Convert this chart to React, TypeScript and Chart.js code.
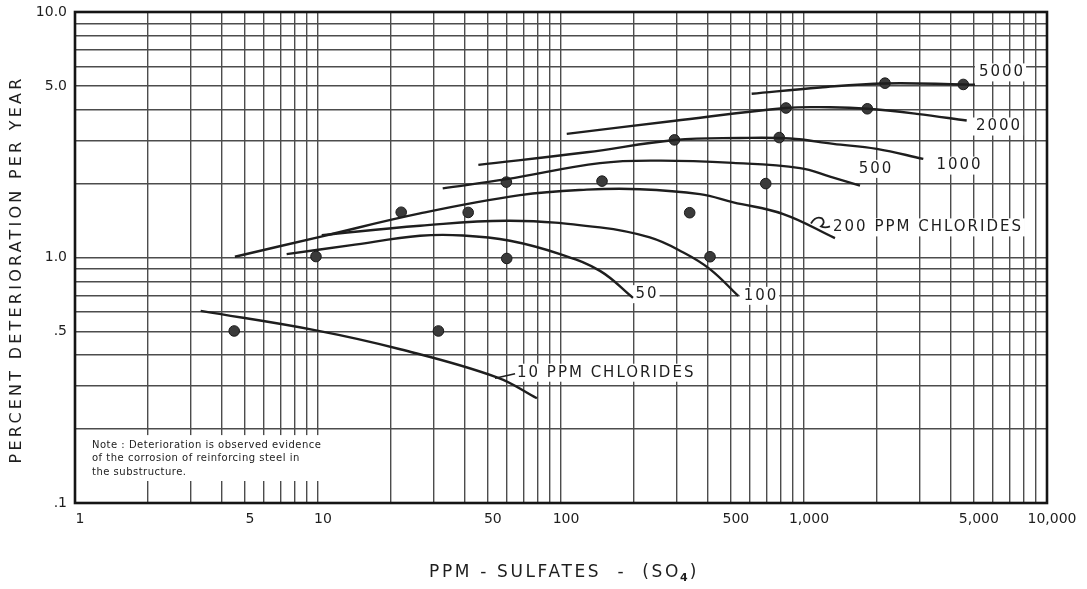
import React, { useEffect, useRef } from "react";
import { Chart, registerables } from "chart.js";

Chart.register(...registerables);

// ---- axes ----
const xGridValues = [1, 2, 3, 4, 5, 6, 7, 8, 9, 10, 20, 30, 40, 50, 60, 70, 80, 90, 100, 200, 300, 400, 500, 600, 700, 800, 900, 1000, 2000, 3000, 4000, 5000, 6000, 7000, 8000, 9000, 10000];
const xLabelValues = [1, 5, 10, 50, 100, 500, 1000, 5000, 10000];
const xLabelTexts = ["1", "5", "10", "50", "100", "500", "1,000", "5,000", "10,000"];
const yGridValues = [0.1, 0.2, 0.3, 0.4, 0.5, 0.6, 0.7, 0.8, 0.9, 1, 2, 3, 4, 5, 6, 7, 8, 9, 10];
const yLabelValues = [0.1, 0.5, 1, 5, 10];
const yLabelTexts = [".1", ".5", "1.0", "5.0", "10.0"];

// ---- curves (PPM sulfates vs percent deterioration per year) ----
const cl10Sulfates = [3.29, 9.81, 21.8, 54.5, 79.6];
const cl10Rate = [0.606, 0.505, 0.423, 0.325, 0.267];
const cl50Sulfates = [7.43, 13.5, 26.3, 39.5, 61.7, 99.1, 144.7, 197.8];
const cl50Rate = [1.032, 1.12, 1.226, 1.23, 1.17, 1.032, 0.882, 0.685];
const cl100Sulfates = [10.36, 26.3, 61.7, 144.7, 232, 319, 410, 536];
const cl100Rate = [1.234, 1.347, 1.412, 1.326, 1.207, 1.048, 0.897, 0.698];
const cl200Sulfates = [4.55, 10.4, 26.3, 67.8, 127.6, 211, 373, 512, 822, 1341];
const cl200Rate = [1.007, 1.22, 1.512, 1.795, 1.89, 1.898, 1.811, 1.677, 1.503, 1.2];
const cl500Sulfates = [32.6, 59.8, 144.7, 255.5, 510, 963, 1279, 1700];
const cl500Rate = [1.912, 2.085, 2.424, 2.481, 2.428, 2.312, 2.135, 1.962];
const cl1000Sulfates = [45.7, 127.6, 294.5, 545, 876, 1320, 1992, 3097];
const cl1000Rate = [2.383, 2.683, 3.009, 3.066, 3.051, 2.903, 2.771, 2.521];
const cl2000Sulfates = [105.6, 289, 843, 1279, 1822, 2909, 4673];
const cl2000Rate = [3.19, 3.597, 4.064, 4.09, 4.034, 3.848, 3.614];
const cl5000Sulfates = [609, 1164, 2154, 4524, 5053];
const cl5000Rate = [4.645, 4.928, 5.117, 5.069, 5.055];

// leader line for the 10 PPM label
const leader10Sulfates = [53.5, 64.7];
const leader10Rate = [0.322, 0.336];

// ---- observations ----
const obsSulfates = [4.52, 9.81, 22.0, 31.3, 41.5, 59.6, 59.8, 147.5, 293, 338.5, 410.5, 696, 791, 843, 1822, 2154, 4524];
const obsRate = [0.502, 1.009, 1.529, 0.502, 1.526, 2.028, 0.991, 2.047, 3.014, 1.522, 1.007, 2.0, 3.08, 4.064, 4.034, 5.131, 5.069];

// ---- curve labels ----
const labelTexts = ["5000", "2000", "1000", "500", "200 PPM CHLORIDES", "50", "100", "10 PPM CHLORIDES"];
const labelSulfates = [6467, 6286, 4323, 1960, 1316, 223.8, 659, 65.9];
const labelRates = [5.675, 3.416, 2.368, 2.296, 1.326, 0.709, 0.698, 0.3394];
const labelAligns = ["center", "center", "center", "center", "left", "center", "center", "left"];

const noteLines = [
  "Note : Deterioration is observed evidence",
  "of the corrosion of reinforcing steel in",
  "the substructure.",
];

const FONT = "'DejaVu Sans', 'Liberation Sans', sans-serif";
const INK = "#1e1e1e";

const pts = (xs: number[], ys: number[]) => xs.map((x, i) => ({ x, y: ys[i] }));

const curve = (xs: number[], ys: number[], width = 2.4) => ({
  data: pts(xs, ys),
  showLine: true,
  borderColor: INK,
  borderWidth: width,
  pointRadius: 0,
  tension: 0.4,
  fill: false,
});

const findLabel = (v: number, vals: number[], texts: string[]) => {
  for (let i = 0; i < vals.length; i++) {
    if (Math.abs(v - vals[i]) < vals[i] * 1e-6) return texts[i];
  }
  return "";
};

const setSpacing = (ctx: any, px: number) => {
  if ("letterSpacing" in ctx) ctx.letterSpacing = px + "px";
};

const decorPlugin = {
  id: "decor",
  beforeDatasetsDraw(chart: any) {
    const { ctx, chartArea: a, scales } = chart;
    const xs = scales.x;
    const ys = scales.y;
    ctx.save();
    // note box (white background interrupting the grid)
    ctx.fillStyle = "#ffffff";
    const nTop = ys.getPixelForValue(0.2) + 6;
    const nBottom = ys.getPixelForValue(0.1) - 22;
    ctx.fillRect(a.left + 2, nTop, 252, nBottom - nTop);
    // label backgrounds
    ctx.font = `15px ${FONT}`;
    setSpacing(ctx, 2);
    labelTexts.forEach((t, i) => {
      const px = xs.getPixelForValue(labelSulfates[i]);
      const py = ys.getPixelForValue(labelRates[i]);
      const w = ctx.measureText(t).width;
      const left = labelAligns[i] === "left" ? px : px - w / 2;
      ctx.fillRect(left - 3, py - 9, w + 5, 18);
    });
    // frame
    ctx.strokeStyle = "#151515";
    ctx.lineWidth = 2.6;
    ctx.strokeRect(a.left, a.top, a.right - a.left, a.bottom - a.top);
    ctx.restore();
  },
  afterDatasetsDraw(chart: any) {
    const { ctx, chartArea: a, scales } = chart;
    const xs = scales.x;
    const ys = scales.y;
    ctx.save();
    ctx.fillStyle = INK;
    ctx.textBaseline = "middle";
    ctx.font = `15px ${FONT}`;
    setSpacing(ctx, 2);
    labelTexts.forEach((t, i) => {
      const px = xs.getPixelForValue(labelSulfates[i]);
      const py = ys.getPixelForValue(labelRates[i]);
      ctx.textAlign = labelAligns[i] as CanvasTextAlign;
      ctx.fillText(t, labelAligns[i] === "center" ? px + 1 : px, py);
    });
    // squiggle leader for the 200 PPM label
    const lx = xs.getPixelForValue(labelSulfates[4]);
    const ly = ys.getPixelForValue(labelRates[4]);
    ctx.strokeStyle = INK;
    ctx.lineWidth = 1.8;
    ctx.beginPath();
    ctx.moveTo(lx - 22, ly - 4);
    ctx.quadraticCurveTo(lx - 17, ly - 12, lx - 11, ly - 9);
    ctx.quadraticCurveTo(lx - 7, ly - 5, lx - 12, ly - 1);
    ctx.quadraticCurveTo(lx - 8, ly + 1, lx - 3, ly - 1);
    ctx.stroke();
    // note text
    ctx.font = `10px ${FONT}`;
    setSpacing(ctx, 0.5);
    ctx.textAlign = "left";
    ctx.fillStyle = "#222";
    const nTop = ys.getPixelForValue(0.2) + 6;
    noteLines.forEach((line, i) => {
      ctx.fillText(line, a.left + 17, nTop + 10 + i * 13.5);
    });
    ctx.restore();
  },
  afterDraw(chart: any) {
    const { ctx, chartArea: a } = chart;
    ctx.save();
    ctx.fillStyle = INK;
    ctx.textBaseline = "middle";
    // y title
    const yTitle = "PERCENT DETERIORATION PER YEAR";
    ctx.font = `16px ${FONT}`;
    setSpacing(ctx, 0);
    const w0 = ctx.measureText(yTitle).width;
    const sp = (388 - w0) / yTitle.length;
    setSpacing(ctx, sp);
    ctx.translate(17, a.top + 259);
    ctx.rotate(-Math.PI / 2);
    ctx.textAlign = "center";
    ctx.fillText(yTitle, sp / 2, 0);
    ctx.restore();

    // x title with subscript
    ctx.save();
    ctx.fillStyle = INK;
    ctx.textBaseline = "middle";
    ctx.textAlign = "left";
    const main = "PPM - SULFATES  -  (SO";
    ctx.font = `17px ${FONT}`;
    setSpacing(ctx, 0);
    const m0 = ctx.measureText(main).width;
    const msp = (252 - m0) / main.length;
    setSpacing(ctx, msp);
    const x0 = 429;
    const y0 = 573;
    ctx.fillText(main, x0, y0);
    const mw = ctx.measureText(main).width;
    ctx.font = `bold 11px ${FONT}`;
    setSpacing(ctx, 0);
    ctx.fillText("4", x0 + mw - 1, y0 + 5);
    const sw = ctx.measureText("4").width;
    ctx.font = `17px ${FONT}`;
    ctx.fillText(")", x0 + mw + sw + 1, y0);
    ctx.restore();
  },
};

export default function App() {
  const ref = useRef<HTMLCanvasElement>(null);
  useEffect(() => {
    document.body.style.margin = "0";
    const canvas = ref.current;
    if (!canvas) return;
    const chart = new Chart(canvas, {
      type: "scatter",
      data: {
        datasets: [
          curve(cl10Sulfates, cl10Rate),
          curve(cl50Sulfates, cl50Rate),
          curve(cl100Sulfates, cl100Rate),
          curve(cl200Sulfates, cl200Rate),
          curve(cl500Sulfates, cl500Rate),
          curve(cl1000Sulfates, cl1000Rate),
          curve(cl2000Sulfates, cl2000Rate),
          curve(cl5000Sulfates, cl5000Rate),
          { ...curve(leader10Sulfates, leader10Rate, 1.6), tension: 0 },
          {
            data: pts(obsSulfates, obsRate),
            showLine: false,
            pointRadius: 5.3,
            pointBackgroundColor: "#3a3a3a",
            pointBorderColor: "#1a1a1a",
            pointBorderWidth: 1,
          },
        ] as any,
      },
      options: {
        responsive: false,
        animation: false,
        devicePixelRatio: 1,
        layout: { padding: { top: 12, right: 40, bottom: 0, left: 0 } },
        plugins: { legend: { display: false }, tooltip: { enabled: false } },
        scales: {
          x: {
            type: "logarithmic",
            min: 1,
            max: 10000,
            afterBuildTicks: (s: any) => {
              s.ticks = xGridValues.map((v) => ({ value: v }));
            },
            afterFit: (s: any) => {
              s.height = 86;
              s.paddingLeft = 0;
              s.paddingRight = 0;
            },
            grid: { color: "#4c4c4c", lineWidth: 1.4, drawTicks: false },
            border: { display: false },
            ticks: {
              autoSkip: false,
              maxRotation: 0,
              minRotation: 0,
              padding: 8,
              labelOffset: 5,
              color: INK,
              font: { family: FONT, size: 14 },
              callback: (v: any) => findLabel(Number(v), xLabelValues, xLabelTexts),
            },
          },
          y: {
            type: "logarithmic",
            min: 0.1,
            max: 10,
            afterBuildTicks: (s: any) => {
              s.ticks = yGridValues.map((v) => ({ value: v }));
            },
            afterFit: (s: any) => {
              s.width = 75;
              s.paddingTop = 0;
              s.paddingBottom = 0;
            },
            grid: { color: "#4c4c4c", lineWidth: 1.4, drawTicks: false },
            border: { display: false },
            ticks: {
              autoSkip: false,
              padding: 8,
              color: INK,
              font: { family: FONT, size: 14 },
              callback: (v: any) => findLabel(Number(v), yLabelValues, yLabelTexts),
            },
          },
        },
      },
      plugins: [decorPlugin],
    } as any);
    return () => chart.destroy();
  }, []);
  return (
    <div style={{ position: "absolute", left: 0, top: 0, width: 1087, height: 589, background: "#fff" }}>
      <canvas ref={ref} width={1087} height={589} style={{ display: "block", width: 1087, height: 589 }} />
    </div>
  );
}
